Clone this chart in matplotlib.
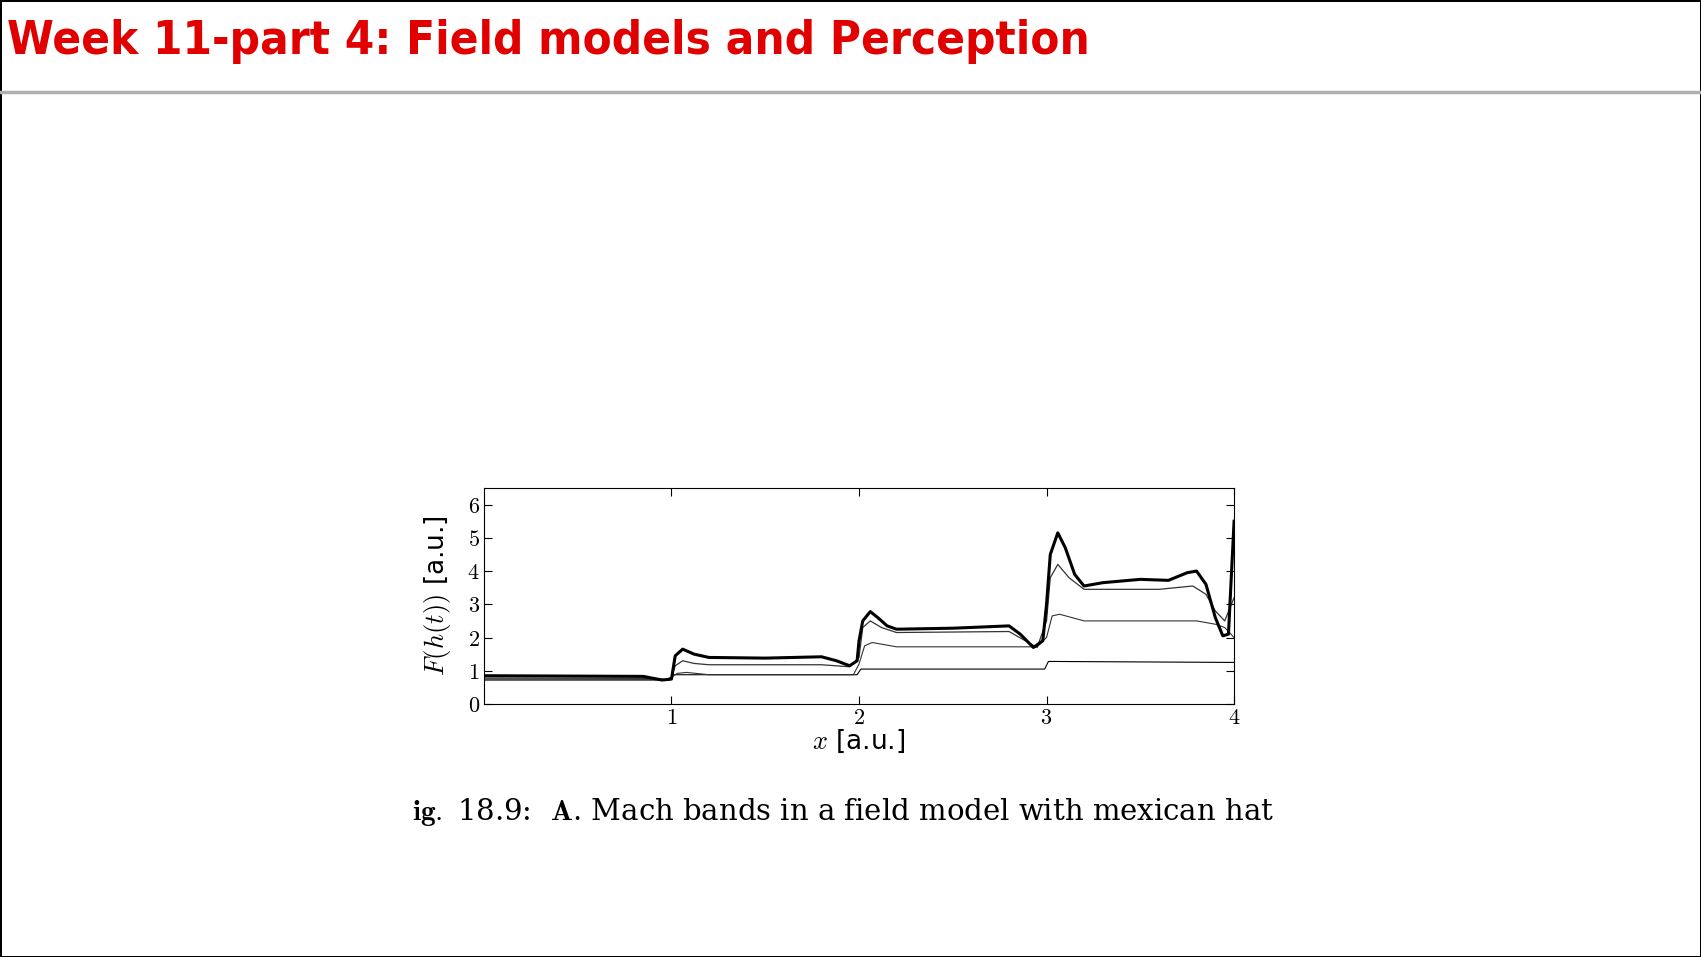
import matplotlib
matplotlib.use("Agg")
import matplotlib.pyplot as plt
from matplotlib.lines import Line2D

plt.rcParams['mathtext.fontset'] = 'cm'

# gelesene Stützpunkte der vier Kurven
x_thick = [0, 0.85, 0.95, 1.0, 1.02, 1.06, 1.12, 1.2, 1.5, 1.8, 1.88, 1.95, 1.99, 2.0, 2.02, 2.06, 2.1, 2.15, 2.2, 2.5,
           2.8, 2.86, 2.93, 2.98, 3.0, 3.02, 3.06, 3.1, 3.15, 3.2, 3.3, 3.5, 3.65, 3.75, 3.8, 3.85, 3.9, 3.94, 3.97, 4.0]
y_thick = [0.85, 0.83, 0.72, 0.75, 1.45, 1.65, 1.5, 1.4, 1.38, 1.42, 1.3, 1.15, 1.3, 1.9, 2.5, 2.78, 2.6, 2.35, 2.25, 2.28,
           2.35, 2.1, 1.7, 1.9, 3.0, 4.5, 5.15, 4.7, 3.9, 3.55, 3.65, 3.75, 3.72, 3.95, 4.0, 3.6, 2.6, 2.05, 2.1, 5.5]

x_mid = [0, 0.9, 0.97, 1.0, 1.02, 1.06, 1.12, 1.2, 1.8, 1.95, 2.0, 2.02, 2.06, 2.12, 2.2, 2.8, 2.95, 3.0, 3.02, 3.06,
         3.12, 3.2, 3.6, 3.78, 3.85, 3.9, 3.95, 4.0]
y_mid = [0.78, 0.77, 0.73, 0.8, 1.15, 1.3, 1.22, 1.18, 1.18, 1.12, 1.4, 2.3, 2.5, 2.3, 2.15, 2.18, 1.7, 2.5, 3.8, 4.2,
         3.8, 3.45, 3.45, 3.55, 3.3, 2.8, 2.5, 3.2]

x_low = [0, 0.97, 1.0, 1.03, 1.08, 1.2, 1.97, 2.0, 2.03, 2.07, 2.2, 2.95, 3.0, 3.03, 3.07, 3.2, 3.8, 3.9, 3.95, 4.0]
y_low = [0.75, 0.74, 0.8, 0.92, 0.95, 0.88, 0.88, 1.2, 1.75, 1.85, 1.72, 1.72, 2.0, 2.65, 2.7, 2.5, 2.5, 2.4, 2.3, 2.0]

x_base = [0, 0.99, 1.01, 1.99, 2.01, 2.99, 3.01, 4.0]
y_base = [0.72, 0.72, 0.88, 0.88, 1.05, 1.05, 1.28, 1.25]

fig = plt.figure(figsize=(17.01, 9.57), dpi=100)
fig.patch.set_edgecolor('black')
fig.patch.set_linewidth(2)

# Titel
fig.text(0.004, 0.957, 'Week 11-part 4: Field models and Perception', color='#e00000',
         family=['DejaVu Sans'], stretch='condensed', weight='bold', fontsize=34, va='center', ha='left')
fig.add_artist(Line2D([0, 1], [0.904, 0.904], color='#b0b0b0', lw=2.5, transform=fig.transFigure))

ax = fig.add_axes([0.2845, 0.2644, 0.441, 0.2257])
ax.plot(x_base, y_base, color='black', lw=0.8)
ax.plot(x_low, y_low, color='#333333', lw=0.8)
ax.plot(x_mid, y_mid, color='#333333', lw=0.9)
ax.plot(x_thick, y_thick, color='black', lw=2.2)
ax.set_xlim(0, 4)
ax.set_ylim(0, 6.5)
ax.set_xticks([1, 2, 3, 4])
ax.set_yticks([0, 1, 2, 3, 4, 5, 6])
ax.set_xticklabels(['$1$', '$2$', '$3$', '$4$'])
ax.set_yticklabels(['$%d$' % v for v in range(7)])
ax.tick_params(direction='in', top=True, right=True, labelsize=16, length=6, pad=3)
ax.set_xlabel('$x$ [a.u.]', fontsize=19, labelpad=0)
ax.set_ylabel('$F(h(t))$ [a.u.]', fontsize=19, labelpad=10)

fig.text(0.242, 0.151, r'$\mathbf{ig.}$ 18.9:  $\mathbf{A}$. Mach bands in a field model with mexican hat',
         family='DejaVu Serif', fontsize=21, ha='left', va='center')

fig.savefig('out.png', dpi=100)
